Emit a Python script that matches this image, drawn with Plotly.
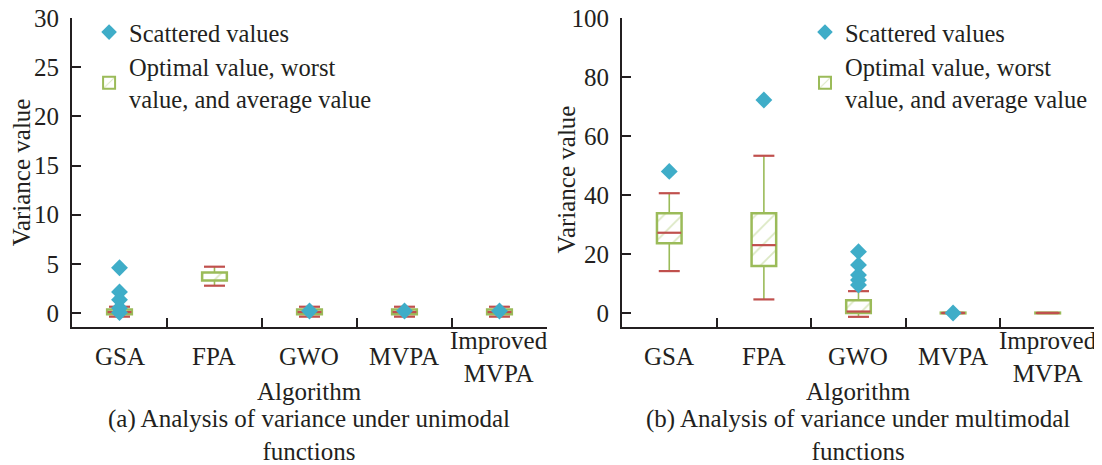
import plotly.graph_objects as go

# ---------------- data ----------------
categories = ["GSA", "FPA", "GWO", "MVPA", "Improved MVPA"]
tick_labels = ["GSA", "FPA", "GWO", "MVPA", "Improved<br>MVPA"]

# (a) unimodal functions
uni_min = [-0.37, 2.78, -0.37, -0.37, -0.37]
uni_q1 = [-0.12, 3.3, -0.12, -0.12, -0.12]
uni_avg = [0.1, None, 0.1, 0.1, 0.1]
uni_q3 = [0.37, 4.12, 0.37, 0.37, 0.37]
uni_max = [0.64, 4.71, 0.64, 0.64, 0.64]
uni_scatter_x = ["GSA", "GSA", "GSA", "GSA", "GSA", "GWO", "MVPA", "Improved MVPA"]
uni_scatter_y = [4.6, 2.15, 1.35, 0.5, 0.05, 0.2, 0.2, 0.2]

# (b) multimodal functions
mul_min = [14.2, 4.6, -1.3, 0.0, 0.0]
mul_q1 = [23.6, 15.9, 0.0, -0.12, -0.12]
mul_avg = [27.2, 23.0, 0.5, 0.0, 0.0]
mul_q3 = [33.8, 33.8, 4.3, 0.12, 0.12]
mul_max = [40.6, 53.3, 7.4, 0.0, 0.0]
mul_scatter_x = ["GSA", "FPA", "GWO", "GWO", "GWO", "GWO", "GWO", "MVPA"]
mul_scatter_y = [48.0, 72.2, 20.8, 16.3, 12.9, 11.2, 9.5, 0.0]

# ---------------- style ----------------
FONT = "Liberation Serif, Times New Roman, serif"
TXT = "#231F20"
GREEN = "#9BBB59"
HATCH = "#B9D28A"
RED = "#C0504D"
BLUE = "#3FADC8"
FS = 25
LFS = 24.5

fig = go.Figure()


def add_panel(xa, ya, leg, vmin, q1, avg, q3, vmax, sx, sy):
    # box (interquartile) as hatched bar
    fig.add_trace(go.Bar(
        x=categories, y=[b - a for a, b in zip(q1, q3)], base=q1, width=0.26,
        xaxis=xa, yaxis=ya, legend=leg, legendrank=2,
        name="Optimal value, worst<br>value, and average value",
        marker=dict(color="white", line=dict(color=GREEN, width=2.5),
                    pattern=dict(shape="/", fgcolor=HATCH, bgcolor="white",
                                 size=13, solidity=0.14)),
        hoverinfo="skip"))
    # upper whisker
    fig.add_trace(go.Scatter(
        x=categories, y=q3, mode="markers", xaxis=xa, yaxis=ya, showlegend=False,
        marker=dict(size=1, color="rgba(0,0,0,0)"),
        error_y=dict(type="data", symmetric=False,
                     array=[b - a for a, b in zip(q3, vmax)],
                     arrayminus=[0] * len(q3), color=GREEN, thickness=1.6, width=0),
        hoverinfo="skip"))
    # lower whisker
    fig.add_trace(go.Scatter(
        x=categories, y=q1, mode="markers", xaxis=xa, yaxis=ya, showlegend=False,
        marker=dict(size=1, color="rgba(0,0,0,0)"),
        error_y=dict(type="data", symmetric=False,
                     array=[0] * len(q1),
                     arrayminus=[a - b for a, b in zip(q1, vmin)],
                     color=GREEN, thickness=1.6, width=0),
        hoverinfo="skip"))
    # red caps (optimal / worst) and average line
    for vals, size in ((vmax, 15), (vmin, 15), (avg, 17)):
        fig.add_trace(go.Scatter(
            x=categories, y=vals, mode="markers", xaxis=xa, yaxis=ya, showlegend=False,
            marker=dict(symbol="line-ew", size=size, line=dict(color=RED, width=2.2)),
            hoverinfo="skip"))
    # scattered values
    fig.add_trace(go.Scatter(
        x=sx, y=sy, mode="markers", xaxis=xa, yaxis=ya, legend=leg, legendrank=1,
        name="Scattered values",
        marker=dict(symbol="diamond", size=13, color=BLUE,
                    line=dict(color=BLUE, width=0))))


add_panel("x", "y", "legend", uni_min, uni_q1, uni_avg, uni_q3, uni_max,
          uni_scatter_x, uni_scatter_y)
add_panel("x2", "y2", "legend2", mul_min, mul_q1, mul_avg, mul_q3, mul_max,
          mul_scatter_x, mul_scatter_y)

xcommon = dict(type="category", categoryorder="array", categoryarray=categories,
               range=[-0.5, 4.5], tickson="boundaries", ticks="inside", ticklen=9,
               tickwidth=2, tickcolor=TXT, showticklabels=False, showline=True,
               linecolor=TXT, linewidth=2, showgrid=False, zeroline=False)
ycommon = dict(ticks="inside", ticklen=9, tickwidth=2, tickcolor=TXT, showline=True,
               linecolor=TXT, linewidth=2, showgrid=False, zeroline=False,
               tickfont=dict(family=FONT, size=FS, color=TXT), ticklabelstandoff=6,
               ticklabeloverflow="allow")

legcommon = dict(font=dict(family=FONT, size=LFS, color=TXT), bgcolor="rgba(0,0,0,0)",
                 xanchor="left", yanchor="top", y=1.027, tracegroupgap=0,
                 traceorder="normal", itemsizing="constant")

annotations = []
for xa, xd in (("x", "x domain"), ("x2", "x2 domain")):
    for c, t in zip(categories, tick_labels):
        annotations.append(dict(x=c, xref=xa, y=-0.097, yref="paper", text=t,
                                showarrow=False, yanchor="middle",
                                font=dict(family=FONT, size=FS, color=TXT)))
    annotations.append(dict(x=0.5, xref=xd, y=-0.209, yref="paper", text="Algorithm",
                            showarrow=False, yanchor="middle",
                            font=dict(family=FONT, size=FS, color=TXT)))

annotations.append(dict(x=0.5, xref="x domain", y=-0.35, yref="paper",
                        text="(a) Analysis of variance under unimodal<br>functions",
                        showarrow=False, yanchor="middle",
                        font=dict(family=FONT, size=FS, color=TXT)))
annotations.append(dict(x=0.5, xref="x2 domain", y=-0.35, yref="paper",
                        text="(b) Analysis of variance under multimodal<br>functions",
                        showarrow=False, yanchor="middle",
                        font=dict(family=FONT, size=FS, color=TXT)))
annotations.append(dict(x=-0.049, xref="paper", y=0.5, yref="paper",
                        text="Variance value", textangle=-90, showarrow=False,
                        xanchor="center", yanchor="middle",
                        font=dict(family=FONT, size=FS, color=TXT)))
annotations.append(dict(x=0.483, xref="paper", y=0.478, yref="paper",
                        text="Variance value", textangle=-90, showarrow=False,
                        xanchor="center", yanchor="middle",
                        font=dict(family=FONT, size=FS, color=TXT)))

# the page body has an 8px default margin, so the figure is 8px smaller
fig.update_layout(
    width=1094, height=457,
    margin=dict(l=64, r=7, t=10, b=138, autoexpand=False),
    paper_bgcolor="white", plot_bgcolor="white",
    font=dict(family=FONT, size=FS, color=TXT),
    barmode="overlay",
    xaxis=dict(domain=[0, 0.4643], anchor="y", **xcommon),
    xaxis2=dict(domain=[0.5376, 1.0], anchor="y2", **xcommon),
    yaxis=dict(range=[-1.42, 30], tickvals=[0, 5, 10, 15, 20, 25, 30], anchor="x",
               **ycommon),
    yaxis2=dict(range=[-4.75, 100], tickvals=[0, 20, 40, 60, 80, 100], anchor="x2",
                **ycommon),
    legend=dict(x=0.0167, **legcommon),
    legend2=dict(x=0.7165, **legcommon),
    annotations=annotations,
)

fig.write_html("out.html")
